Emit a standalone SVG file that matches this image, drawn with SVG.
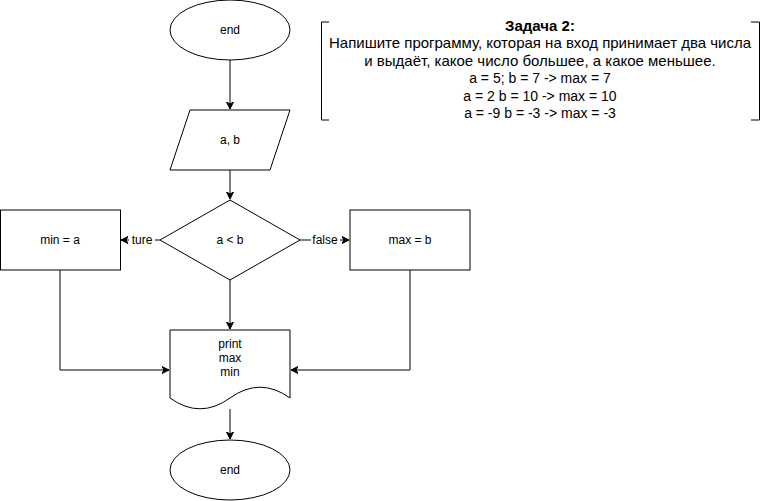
<svg xmlns="http://www.w3.org/2000/svg" width="761" height="501" viewBox="0 0 761 501">
<style>
.s{fill:#fff;stroke:#000;stroke-width:1}
.t{font-family:"Liberation Sans",Arial,sans-serif;font-size:12px;fill:#000;text-anchor:middle}
.n{font-family:"Liberation Sans",Arial,sans-serif;font-size:14px;fill:#000;text-anchor:middle}
.cy{font-size:15px}
.c{fill:none;stroke:#000;stroke-width:1}
.lbl{font-family:"Liberation Sans",Arial,sans-serif;font-size:12px;fill:#000;text-anchor:middle}
</style>
<defs>
<marker id="arr" markerWidth="8" markerHeight="8" refX="7" refY="4" orient="auto" markerUnits="userSpaceOnUse">
<path d="M0,0.5 L7,4 L0,7.5 L2,4 Z" fill="#000" stroke="#000" stroke-width="1"/>
</marker>
</defs>
<rect width="761" height="501" fill="#fff"/>
<g id="connectors">
<path class="c" d="M230,60 V109" marker-end="url(#arr)"/>
<path class="c" d="M230,170 V199" marker-end="url(#arr)"/>
<path class="c" d="M160,240 H121" marker-end="url(#arr)"/>
<path class="c" d="M300,240 H349" marker-end="url(#arr)"/>
<path class="c" d="M230,280 V329" marker-end="url(#arr)"/>
<path class="c" d="M60,270 V370 H169" marker-end="url(#arr)"/>
<path class="c" d="M410,270 V370 H291" marker-end="url(#arr)"/>
<path class="c" d="M230,409 V439" marker-end="url(#arr)"/>
<rect x="129" y="232" width="26" height="15" fill="#fff"/>
<text class="lbl" x="142" y="244">ture</text>
<rect x="311" y="232" width="29" height="15" fill="#fff"/>
<text class="lbl" x="325" y="244">false</text>
</g>
<g id="start">
<ellipse class="s" cx="230" cy="30" rx="60" ry="30"/>
<text class="t" x="230" y="34">end</text>
</g>
<g id="input">
<path class="s" d="M190,110 H290 L270,170 H170 Z"/>
<text class="t" x="230" y="144">a, b</text>
</g>
<g id="cond">
<path class="s" d="M230,200 L300,240 L230,280 L160,240 Z"/>
<text class="t" x="230" y="244">a &lt; b</text>
</g>
<g id="mina">
<rect class="s" x="0.5" y="210" width="120" height="60"/>
<text class="t" x="60" y="244">min = a</text>
</g>
<g id="maxb">
<rect class="s" x="350" y="210" width="120" height="60"/>
<text class="t" x="410" y="244">max = b</text>
</g>
<g id="print">
<path class="s" d="M170,330 H290 V398 Q260,376.4 230,398 T170,398 Z"/>
<text class="t" x="230" y="348">print</text>
<text class="t" x="230" y="362">max</text>
<text class="t" x="230" y="376">min</text>
</g>
<g id="end">
<ellipse class="s" cx="230" cy="470" rx="60" ry="30"/>
<text class="t" x="230" y="474">end</text>
</g>
<g id="note">
<path class="c" d="M329,22 H321.5 V120 H329"/>
<path class="c" d="M751,22 H759.5 V120 H751"/>
<text class="n cy" x="540" y="31" font-weight="bold">Задача 2:</text>
<text class="n cy" x="540" y="48.4">Напишите программу, которая на вход принимает два числа</text>
<text class="n cy" x="540" y="65.8">и выдаёт, какое число большее, а какое меньшее.</text>
<text class="n" x="540" y="83.2">a = 5; b = 7 -&gt; max = 7</text>
<text class="n" x="540" y="100.6">a = 2 b = 10 -&gt; max = 10</text>
<text class="n" x="540" y="118">a = -9 b = -3 -&gt; max = -3</text>
</g>
</svg>
